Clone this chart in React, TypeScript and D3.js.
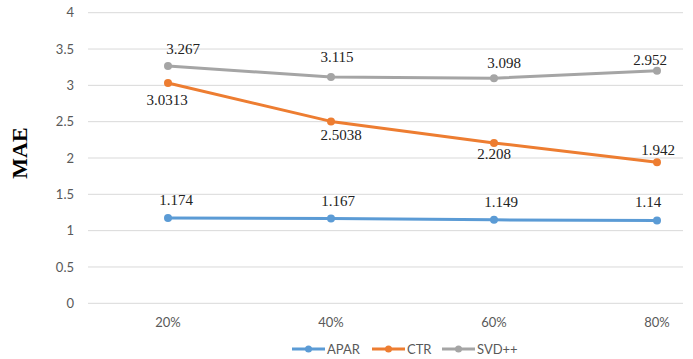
import React from "react";
import * as d3 from "d3";

const categories = ["20%", "40%", "60%", "80%"];
const yTicks = [0, 0.5, 1, 1.5, 2, 2.5, 3, 3.5, 4];
const seriesNames = ["APAR", "CTR", "SVD++"];
const aparValues = [1.174, 1.167, 1.149, 1.14];
const ctrValues = [3.0313, 2.5038, 2.208, 1.942];
const svdValues = [3.267, 3.115, 3.098, 3.2];
const aparLabels = ["1.174", "1.167", "1.149", "1.14"];
const ctrLabels = ["3.0313", "2.5038", "2.208", "1.942"];
const svdLabels = ["3.267", "3.115", "3.098", "2.952"];

// layout (not data): label offsets relative to each point [dx, dy]
const labelOffsets: [number, number][][] = [
  [[8, -13], [7, -13], [7, -13], [-9, -13]],
  [[-1, 22], [10, 19], [0, 16], [1, -7]],
  [[15, -12], [6, -15], [10, -10], [-7, -6]],
];

const colors = ["#5b9bd5", "#ed7d31", "#a5a5a5"];

export default function App() {
  const W = 693, H = 359;
  const gridLeft = 88, gridRight = 683;
  const y = d3.scaleLinear().domain([0, 4]).range([303.3, 12.7]);
  const x = d3.scalePoint<string>().domain(categories).range([168, 657]);
  const series = [
    { name: seriesNames[0], values: aparValues, labels: aparLabels },
    { name: seriesNames[1], values: ctrValues, labels: ctrLabels },
    { name: seriesNames[2], values: svdValues, labels: svdLabels },
  ];
  const line = d3
    .line<number>()
    .x((_, i) => x(categories[i])!)
    .y((d) => y(d));
  const legendX = [292, 372, 442];
  const legendY = 349;
  return (
    <svg width={W} height={H} style={{ position: "absolute", left: 0, top: 0, background: "#fff" }}>
      <rect x={0} y={0} width={W} height={H} fill="#fff" />
      {yTicks.map((t) => (
        <g key={t}>
          <line x1={gridLeft} x2={gridRight} y1={y(t)} y2={y(t)} stroke="#d9d9d9" strokeWidth={1} />
          <text x={74} y={y(t)} dy="0.35em" textAnchor="end" fontFamily="Lato, 'Open Sans', sans-serif" fontSize={13} fill="#595959">
            {d3.format("")(t)}
          </text>
        </g>
      ))}
      {categories.map((c) => (
        <text key={c} x={x(c)!} y={322} dy="0.35em" textAnchor="middle" fontFamily="Lato, 'Open Sans', sans-serif" fontSize={13} fill="#595959">
          {c}
        </text>
      ))}
      <text transform={`translate(27,153) rotate(-90)`} textAnchor="middle" fontFamily="'Liberation Serif', 'Times New Roman', serif" fontWeight="bold" fontSize={22} fill="#000">
        MAE
      </text>
      {series.map((s, si) => (
        <g key={s.name}>
          <path d={line(s.values)!} fill="none" stroke={colors[si]} strokeWidth={3} strokeLinejoin="round" />
          {s.values.map((v, i) => (
            <circle key={i} cx={x(categories[i])!} cy={y(v)} r={4} fill={colors[si]} />
          ))}
          {s.values.map((v, i) => (
            <text
              key={"l" + i}
              x={x(categories[i])! + labelOffsets[si][i][0]}
              y={y(v) + labelOffsets[si][i][1]}
              textAnchor="middle"
              fontFamily="'Liberation Serif', 'Times New Roman', serif"
              fontSize={15}
              fill="#222"
            >
              {s.labels[i]}
            </text>
          ))}
        </g>
      ))}
      {series.map((s, si) => (
        <g key={"lg" + s.name}>
          <line x1={legendX[si]} x2={legendX[si] + 33} y1={legendY} y2={legendY} stroke={colors[si]} strokeWidth={3} />
          <circle cx={legendX[si] + 16.5} cy={legendY} r={3.5} fill={colors[si]} />
          <text x={legendX[si] + 35} y={legendY} dy="0.35em" fontFamily="Lato, 'Open Sans', sans-serif" fontSize={13} fill="#595959">
            {s.name}
          </text>
        </g>
      ))}
    </svg>
  );
}
